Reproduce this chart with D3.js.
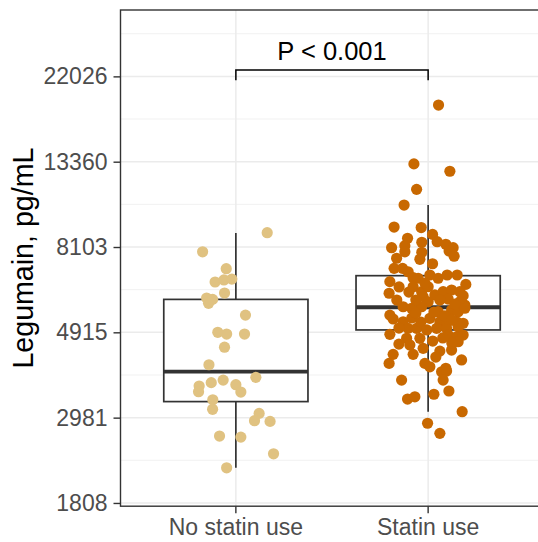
<!DOCTYPE html>
<html>
<head>
<meta charset="utf-8">
<script src="https://cdn.jsdelivr.net/npm/d3@7"></script>
<style>
    body { margin: 0; background: #fff; }
    text { font-family: 'Liberation Sans', Arial, sans-serif; }
</style>
</head>
<body>
<div class="chart-box"><svg></svg></div>
<script>
const groups = ['No statin use', 'Statin use'];
const groupColors = ['#E0C281', '#C86800'];

// log(legumain) per patient + horizontal jitter (fraction of band)
const noStatinLog = [
    9.084, 8.972, 8.873, 8.795, 8.807, 8.812, 8.73, 8.701, 8.67, 8.693,
    8.601, 8.5, 8.49, 8.49, 8.413, 8.31, 8.236, 8.185, 8.152, 8.205,
    8.22, 8.193, 8.15, 8.105, 8.049, 8.025, 7.982, 7.978, 7.892, 7.886,
    7.788, 7.706,
];
const noStatinJitter = [
    0.163, -0.173, -0.05, -0.108, -0.062, -0.021, -0.059, -0.152, -0.142, -0.121,
    0.05, -0.094, -0.048, 0.045, -0.059, -0.14, 0.104, -0.191, -0.194, -0.128,
    -0.066, 0.0, 0.026, -0.12, -0.121, 0.121, 0.097, 0.178, -0.085, 0.026,
    0.196, -0.048,
];
const statinLog = [
    9.832, 9.487, 9.444, 9.338, 9.246, 9.117, 9.114, 9.074, 9.051, 9.031,
    8.996, 9.008, 8.972, 9.028, 8.969, 8.928, 9.016, 8.996, 8.977, 8.946,
    8.934, 8.902, 8.875, 8.875, 8.855, 8.82, 8.817, 8.836, 8.817, 8.836,
    8.836, 8.797, 8.766, 8.729, 8.767, 8.738, 8.767, 8.719, 8.738, 8.748,
    8.781, 8.738, 8.715, 8.709, 8.679, 8.695, 8.679, 8.66, 8.65, 8.641,
    8.65, 8.621, 8.631, 8.621, 8.641, 8.601, 8.578, 8.562, 8.582, 8.562,
    8.553, 8.562, 8.553, 8.523, 8.523, 8.523, 8.523, 8.533, 8.488, 8.465,
    8.465, 8.484, 8.474, 8.484, 8.406, 8.39, 8.396, 8.445, 8.371, 8.371,
    8.318, 8.318, 8.298, 8.289, 8.338, 8.269, 8.273, 8.22, 8.22, 8.109,
    8.122, 8.137, 8.156, 8.035, 7.967, 7.908,
    8.789, 8.736, 8.689, 8.689, 8.619, 8.596, 8.584, 8.56, 8.437, 8.449,
    8.431, 8.355, 8.666, 8.689, 8.613, 8.467, 8.514, 8.525, 8.572, 8.426,
];
const statinJitter = [
    0.054, -0.074, 0.113, -0.06, -0.125, -0.177, -0.036, 0.023, -0.107, 0.047,
    -0.19, -0.121, -0.121, -0.033, -0.033, -0.043, 0.092, 0.13, 0.109, 0.135,
    -0.164, 0.023, -0.177, -0.133, -0.104, -0.078, -0.052, 0.009, 0.052, 0.099,
    0.151, -0.199, -0.151, -0.203, -0.078, -0.034, 0.0, 0.035, 0.078, 0.122,
    0.196, 0.165, 0.182, -0.026, 0.0, 0.104, 0.165, 0.191, -0.13, -0.086,
    -0.034, 0.052, 0.122, 0.156, 0.191, -0.199, -0.182, -0.13, 0.009, 0.061,
    0.096, 0.148, 0.182, -0.104, -0.06, 0.044, 0.096, 0.156, -0.199, -0.112,
    -0.043, 0.104, 0.148, 0.182, -0.026, 0.061, 0.122, 0.156, -0.182, -0.078,
    -0.203, -0.017, 0.009, 0.092, 0.174, 0.07, 0.096, 0.078, -0.138, -0.107,
    -0.069, 0.03, 0.108, 0.177, -0.003, 0.061,
    -0.017, -0.1, 0.061, -0.064, 0.03, 0.087, -0.085, -0.038, 0.123, 0.024,
    -0.152, 0.04, 0.139, -0.163, -0.064, 0.076, -0.007, -0.152, 0.123, -0.095,
];

// boxplot summaries (log units)
const whiskerLow = [7.706, 8.035];
const boxQ1 = [8.094, 8.514];
const boxMedian = [8.27, 8.647];
const boxQ3 = [8.693, 8.832];
const whiskerHigh = [9.082, 9.246];

const yTicks = [7.5, 8, 8.5, 9, 9.5, 10];
const yMinorTicks = [7.75, 8.25, 8.75, 9.25, 9.75, 10.25];
const yDomain = [7.481, 10.389];
const pLabel = 'P < 0.001';
const yTitle = 'Legumain, pg/mL';

function boxChart() {
    const w = 538;
    const h = 542;
    const margin = { top: 10, left: 120.5, bottom: 35.8 };
    const panelRight = 543.5;
    const svg = d3.select('.chart-box svg').attr('width', w).attr('height', h);

    const y = d3
        .scaleLinear()
        .domain(yDomain)
        .range([h - margin.bottom, margin.top]);

    const x = d3
        .scaleBand()
        .domain(groups)
        .range([margin.left, panelRight])
        .paddingInner(0)
        .paddingOuter(0.1);

    const bw = x.bandwidth();
    const cx = (g) => x(g) + bw / 2;

    // grid
    const grid = svg.append('g').attr('class', 'grid');
    grid.selectAll('.minor')
        .data(yMinorTicks)
        .enter()
        .append('line')
        .attr('x1', margin.left)
        .attr('x2', panelRight)
        .attr('y1', (d) => y(d))
        .attr('y2', (d) => y(d))
        .attr('stroke', '#EFEFEF')
        .attr('stroke-width', 0.9);
    grid.selectAll('.major')
        .data(yTicks)
        .enter()
        .append('line')
        .attr('x1', margin.left)
        .attr('x2', panelRight)
        .attr('y1', (d) => y(d))
        .attr('y2', (d) => y(d))
        .attr('stroke', '#EBEBEB')
        .attr('stroke-width', 1.5);
    grid.selectAll('.vert')
        .data(groups)
        .enter()
        .append('line')
        .attr('x1', cx)
        .attr('x2', cx)
        .attr('y1', margin.top)
        .attr('y2', h - margin.bottom)
        .attr('stroke', '#EBEBEB')
        .attr('stroke-width', 1.5);

    // boxes
    const stats = groups.map((g, i) => ({
        g,
        lo: whiskerLow[i],
        q1: boxQ1[i],
        med: boxMedian[i],
        q3: boxQ3[i],
        hi: whiskerHigh[i],
    }));

    const box = svg
        .selectAll('.box')
        .data(stats)
        .enter()
        .append('g')
        .attr('class', 'box');

    box.append('line')
        .attr('x1', (d) => cx(d.g))
        .attr('x2', (d) => cx(d.g))
        .attr('y1', (d) => y(d.q3))
        .attr('y2', (d) => y(d.hi))
        .attr('stroke', '#333')
        .attr('stroke-width', 1.7);
    box.append('line')
        .attr('x1', (d) => cx(d.g))
        .attr('x2', (d) => cx(d.g))
        .attr('y1', (d) => y(d.q1))
        .attr('y2', (d) => y(d.lo))
        .attr('stroke', '#333')
        .attr('stroke-width', 1.7);
    box.append('rect')
        .attr('x', (d) => cx(d.g) - bw * 0.375)
        .attr('width', bw * 0.75)
        .attr('y', (d) => y(d.q3))
        .attr('height', (d) => y(d.q1) - y(d.q3))
        .attr('fill', '#fff')
        .attr('stroke', '#333')
        .attr('stroke-width', 1.7);
    box.append('line')
        .attr('x1', (d) => cx(d.g) - bw * 0.375)
        .attr('x2', (d) => cx(d.g) + bw * 0.375)
        .attr('y1', (d) => y(d.med))
        .attr('y2', (d) => y(d.med))
        .attr('stroke', '#333')
        .attr('stroke-width', 3.8);

    // jittered points
    const points = [
        ...noStatinLog.map((v, i) => ({ g: groups[0], v, j: noStatinJitter[i], c: 0 })),
        ...statinLog.map((v, i) => ({ g: groups[1], v, j: statinJitter[i], c: 1 })),
    ];

    svg.append('g')
        .selectAll('circle')
        .data(points)
        .enter()
        .append('circle')
        .attr('cx', (d) => cx(d.g) + d.j * bw)
        .attr('cy', (d) => y(d.v))
        .attr('r', 5.6)
        .attr('fill', (d) => groupColors[d.c]);

    // panel border
    svg.append('rect')
        .attr('x', margin.left)
        .attr('y', margin.top)
        .attr('width', panelRight - margin.left)
        .attr('height', h - margin.bottom - margin.top)
        .attr('fill', 'none')
        .attr('stroke', '#333')
        .attr('stroke-width', 1.4);

    // axes
    const yAxis = svg
        .append('g')
        .attr('transform', `translate(${margin.left},0)`)
        .call(
            d3
                .axisLeft(y)
                .tickValues(yTicks)
                .tickFormat((d) => Math.round(Math.exp(d)))
                .tickSize(7)
                .tickPadding(6)
        );
    const xAxis = svg
        .append('g')
        .attr('transform', `translate(0,${h - margin.bottom})`)
        .call(d3.axisBottom(x).tickSize(7).tickPadding(5.5));

    [yAxis, xAxis].forEach((a) => {
        a.select('.domain').remove();
        a.selectAll('.tick line').attr('stroke', '#333').attr('stroke-width', 1.4);
        a.selectAll('.tick text')
            .attr('fill', '#4D4D4D')
            .style('font-size', '23px')
            .style('font-family', "'Liberation Sans', Arial, sans-serif");
    });

    svg.append('text')
        .attr('transform', `translate(32.5,${(margin.top + h - margin.bottom) / 2}) rotate(-90)`)
        .attr('text-anchor', 'middle')
        .attr('fill', '#000')
        .style('font-size', '28.6px')
        .text(yTitle);

    // significance bracket
    const x1 = cx(groups[0]);
    const x2 = cx(groups[1]);
    svg.append('path')
        .attr('d', `M${x1},80.3V70H${x2}V80.3`)
        .attr('fill', 'none')
        .attr('stroke', '#000')
        .attr('stroke-width', 1.5);
    svg.append('text')
        .attr('x', (x1 + x2) / 2)
        .attr('y', 60.3)
        .attr('text-anchor', 'middle')
        .attr('fill', '#000')
        .style('font-size', '25.5px')
        .text(pLabel);
}

boxChart();
</script>
</body>
</html>
